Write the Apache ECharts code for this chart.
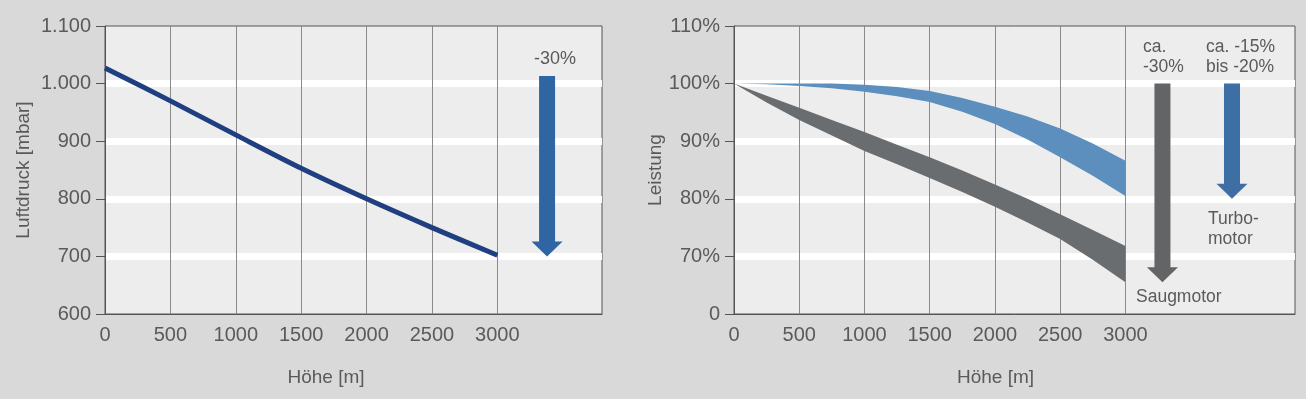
<!DOCTYPE html>
<html>
<head>
<meta charset="utf-8">
<script src="https://cdn.jsdelivr.net/npm/echarts@6/dist/echarts.min.js"></script>
<style>
    html,body{margin:0;padding:0;background:#d9d9d9;}
    #main{width:1306px;height:399px;}
</style>
</head>
<body>
<div id="main"></div>
<script>
    // links: Höhe (m) und Luftdruck (mbar)
    var hoehe = [0, 500, 1000, 1500, 2000, 2500, 3000];
    var luftdruck = [1027, 970, 911, 853, 800, 750, 702];
    var xTicks = [500, 1000, 1500, 2000, 2500, 3000];

    var hoeheFein = [0, 250, 500, 750, 1000, 1250, 1500, 1750, 2000, 2250, 2500, 2750, 3000];
    var turboOben = [100, 100, 100, 100, 99.8, 99.4, 98.7, 97.5, 96.0, 94.3, 92.2, 89.6, 86.6];
    var turboUnten = [100, 99.9, 99.6, 99.2, 98.6, 97.8, 96.8, 95.1, 93.0, 90.3, 87.2, 84.0, 80.5];
    var saugOben = [100, 97.9, 95.8, 93.7, 91.6, 89.4, 87.2, 84.9, 82.5, 80.0, 77.3, 74.6, 71.8];
    var saugUnten = [100, 96.7, 93.7, 91.0, 88.3, 86.0, 83.6, 81.2, 78.6, 75.9, 73.0, 69.4, 65.5];

    // Pfeile: [x, von, bis]
    var pfeilLinks = [[3380, 1013, 700]];
    var pfeilSaug = [[3284, 100, 65.5]];
    var pfeilTurbo = [[3817, 100, 80]];

    var font = '"Liberation Sans", Arial, sans-serif';
    var txt = '#5a5a5a';

    function pairs(xs, ys){
        return xs.map(function(x, i){ return [x, ys[i]]; });
    }

    function arrowItem(params, api){
        var p0 = api.coord([api.value(0), api.value(1)]);
        var p1 = api.coord([api.value(0), api.value(2)]);
        var x = p0[0], sw = 8, hw = 15.5, hl = 15;
        return {
            type: 'polygon',
            shape: {points: [[x - sw, p0[1]], [x + sw, p0[1]], [x + sw, p1[1] - hl], [x + hw, p1[1] - hl],
                [x, p1[1]], [x - hw, p1[1] - hl], [x - sw, p1[1] - hl]]},
            style: {fill: api.visual('color')}
        };
    }

    // Band als eine Fläche zwischen oberer und unterer Kurve
    function band(oben, unten, color){
        return {
            type: 'custom', xAxisIndex: 1, yAxisIndex: 1, data: [[0]], silent: true, z: 2,
            itemStyle: {color: color},
            renderItem: function(params, api){
                var pts = [];
                for (var i = 0; i < hoeheFein.length; i++) pts.push(api.coord([hoeheFein[i], oben[i]]));
                for (var j = hoeheFein.length - 1; j >= 0; j--) pts.push(api.coord([hoeheFein[j], unten[j]]));
                return {type: 'polygon', shape: {points: pts}, style: {fill: api.visual('color')}};
            }
        };
    }

    function xAxisDef(idx, max, pad){
        return {
            type: 'value', gridIndex: idx, min: 0, max: max, interval: 500,
            name: 'Höhe [m]', nameLocation: 'middle', nameGap: 54,
            nameTextStyle: {color: txt, fontSize: 19, fontFamily: font, padding: [0, pad, 0, 0]},
            axisLine: {lineStyle: {color: '#555', width: 1}},
            axisTick: {show: false},
            splitLine: {show: false},
            axisLabel: {
                color: txt, fontSize: 20, fontFamily: font, margin: 11,
                formatter: function(v){ return v > 3000 ? '' : String(v); }
            }
        };
    }

    function yAxisDef(idx, min, max, interval, name, gap, fmt){
        return {
            type: 'value', gridIndex: idx, min: min, max: max, interval: interval,
            name: name, nameLocation: 'middle', nameGap: gap,
            nameTextStyle: {color: txt, fontSize: 19, fontFamily: font},
            axisLine: {show: true, lineStyle: {color: '#555', width: 1}},
            axisTick: {show: true, length: 9, lineStyle: {color: '#555'}},
            splitLine: {show: true, showMinLine: false, showMaxLine: false, lineStyle: {color: '#ffffff', width: 7}},
            axisLabel: {color: txt, fontSize: 20, fontFamily: font, margin: 14, formatter: fmt}
        };
    }

    function gridLines(xi, yi){
        return {
            type: 'line', xAxisIndex: xi, yAxisIndex: yi, data: [], silent: true,
            markLine: {
                silent: true, symbol: 'none', z: 1, animation: false,
                label: {show: false},
                lineStyle: {type: 'solid', color: '#8a8a8a', width: 1},
                data: xTicks.map(function(v){ return {xAxis: v}; })
            }
        };
    }

    var chart = echarts.init(document.getElementById('main'));
    var option = {
        backgroundColor: '#d9d9d9',
        animation: false,
        grid: [
            {left: 105, top: 26, width: 497, height: 288, show: true, backgroundColor: '#ededed', borderColor: '#555', borderWidth: 1},
            {left: 734, top: 26, width: 561, height: 288, show: true, backgroundColor: '#ededed', borderColor: '#555', borderWidth: 1}
        ],
        xAxis: [xAxisDef(0, 3800, 55), xAxisDef(1, 4300, 38)],
        yAxis: [
            yAxisDef(0, 600, 1100, 100, 'Luftdruck [mbar]', 72, function(v){
                return v >= 1000 ? Math.floor(v / 1000) + '.' + String(v % 1000).padStart(3, '0') : String(v);
            }),
            yAxisDef(1, 60, 110, 10, 'Leistung', 68, function(v){
                return v === 60 ? '0' : v + '%';
            })
        ],
        series: [
            gridLines(0, 0),
            gridLines(1, 1),
            {
                type: 'line', xAxisIndex: 0, yAxisIndex: 0, data: pairs(hoehe, luftdruck),
                smooth: 0.3, showSymbol: false, silent: true, z: 3,
                lineStyle: {color: '#1f3f80', width: 5, cap: 'butt'}
            },
            {type: 'custom', xAxisIndex: 0, yAxisIndex: 0, data: pfeilLinks, renderItem: arrowItem, itemStyle: {color: '#2f65a2'}, z: 4, silent: true},
            band(saugOben, saugUnten, '#6a6d70'),
            band(turboOben, turboUnten, '#5c8ebe'),
            {type: 'custom', xAxisIndex: 1, yAxisIndex: 1, data: pfeilSaug, renderItem: arrowItem, itemStyle: {color: '#636466'}, z: 4, silent: true},
            {type: 'custom', xAxisIndex: 1, yAxisIndex: 1, data: pfeilTurbo, renderItem: arrowItem, itemStyle: {color: '#3d6ea4'}, z: 4, silent: true}
        ],
        graphic: [
            {type: 'text', z: 10, style: {x: 555, y: 59, text: '-30%', fill: txt, font: '18px ' + font, textAlign: 'center', textVerticalAlign: 'middle'}},
            {type: 'text', z: 10, style: {x: 1143, y: 57, text: 'ca.\n-30%', fill: txt, font: '17.5px ' + font, lineHeight: 20, textAlign: 'left', textVerticalAlign: 'middle'}},
            {type: 'text', z: 10, style: {x: 1206, y: 57, text: 'ca. -15%\nbis -20%', fill: txt, font: '17.5px ' + font, lineHeight: 20, textAlign: 'left', textVerticalAlign: 'middle'}},
            {type: 'text', z: 10, style: {x: 1208, y: 229, text: 'Turbo-\nmotor', fill: txt, font: '17.5px ' + font, lineHeight: 20, textAlign: 'left', textVerticalAlign: 'middle'}},
            {type: 'text', z: 10, style: {x: 1136, y: 297, text: 'Saugmotor', fill: txt, font: '17.5px ' + font, textAlign: 'left', textVerticalAlign: 'middle'}}
        ]
    };
    chart.setOption(option);
</script>
</body>
</html>
